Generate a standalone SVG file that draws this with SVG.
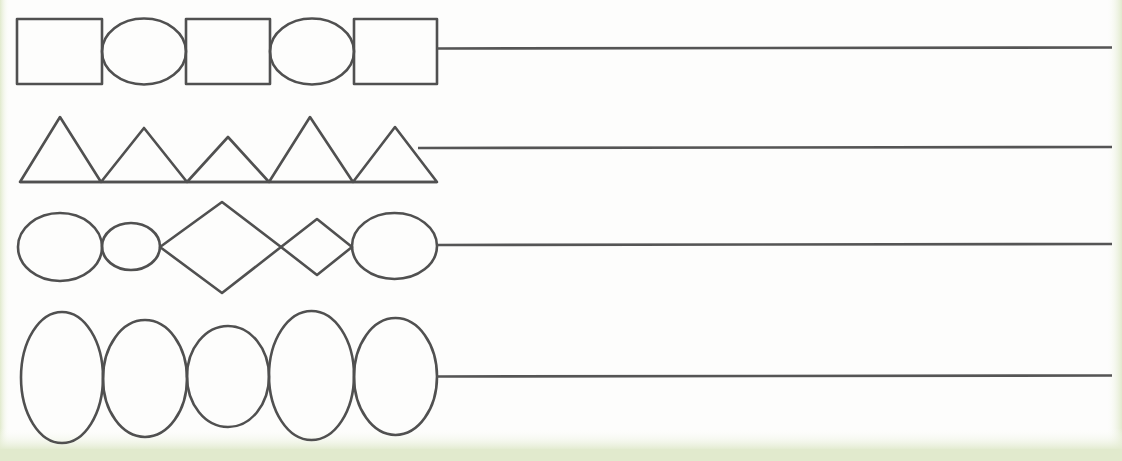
<svg xmlns="http://www.w3.org/2000/svg" width="1122" height="461" viewBox="0 0 1122 461">
<defs>
<linearGradient id="gb" x1="0" y1="0" x2="0" y2="1">
<stop offset="0" stop-color="#ffffff" stop-opacity="0"/>
<stop offset="1" stop-color="#e1eacd"/>
</linearGradient>
<linearGradient id="gr" x1="0" y1="0" x2="1" y2="0">
<stop offset="0" stop-color="#ffffff" stop-opacity="0"/>
<stop offset="1" stop-color="#e1eacd"/>
</linearGradient>
<linearGradient id="gl" x1="1" y1="0" x2="0" y2="0">
<stop offset="0" stop-color="#ffffff" stop-opacity="0"/>
<stop offset="1" stop-color="#e1eacd"/>
</linearGradient>
</defs>
<style>
.s{fill:none;stroke:#505050;stroke-width:2.6;stroke-linejoin:round}
.l{fill:none;stroke:#555555;stroke-width:2.6}
</style>
<rect x="0" y="0" width="1122" height="461" fill="#fdfdfc"/>
<rect x="0" y="0" width="10" height="461" fill="url(#gl)"/>
<rect x="1106" y="0" width="16" height="461" fill="url(#gr)"/>
<rect x="0" y="428" width="1122" height="22" fill="url(#gb)"/>
<rect x="0" y="449" width="1122" height="12" fill="#e1eacd"/>

<g id="row1">
<rect class="s" x="17" y="19" width="85" height="65"/>
<ellipse class="s" cx="144" cy="51.5" rx="42" ry="33"/>
<rect class="s" x="186" y="19" width="84" height="65"/>
<ellipse class="s" cx="312" cy="51.5" rx="42" ry="33"/>
<rect class="s" x="354" y="19" width="83" height="65"/>
</g>
<g id="row2">
<polygon class="s" points="20,182 60,117 101,182"/>
<polygon class="s" points="101,182 144,128 187,182"/>
<polygon class="s" points="187,182 228,137 269,182"/>
<polygon class="s" points="269,182 310,117 353,182"/>
<polygon class="s" points="353,182 395,127 437,182"/>
<line class="s" x1="20" y1="182" x2="437" y2="182"/>
</g>
<g id="row3">
<ellipse class="s" cx="60" cy="247" rx="42" ry="34"/>
<ellipse class="s" cx="131" cy="246.5" rx="29" ry="23.5"/>
<polygon class="s" points="160,247 222,202 281,247 222,293"/>
<polygon class="s" points="281,247 317,219 352,247 317,275"/>
<ellipse class="s" cx="394.5" cy="246" rx="42.5" ry="33"/>
</g>
<g id="row4">
<ellipse class="s" cx="62" cy="377.5" rx="41" ry="65.5"/>
<ellipse class="s" cx="145" cy="378.5" rx="42" ry="58.5"/>
<ellipse class="s" cx="228" cy="376.5" rx="41" ry="50.5"/>
<ellipse class="s" cx="311.5" cy="375.5" rx="42.5" ry="64.5"/>
<ellipse class="s" cx="395.5" cy="376.5" rx="41.5" ry="58.5"/>
</g>
<g id="connectors">
<line class="l" x1="437" y1="48.5" x2="1112" y2="47.5"/>
<line class="l" x1="418" y1="148" x2="1112" y2="147"/>
<line class="l" x1="437" y1="245" x2="1112" y2="244"/>
<line class="l" x1="437" y1="376.5" x2="1112" y2="375.5"/>
</g>
</svg>
